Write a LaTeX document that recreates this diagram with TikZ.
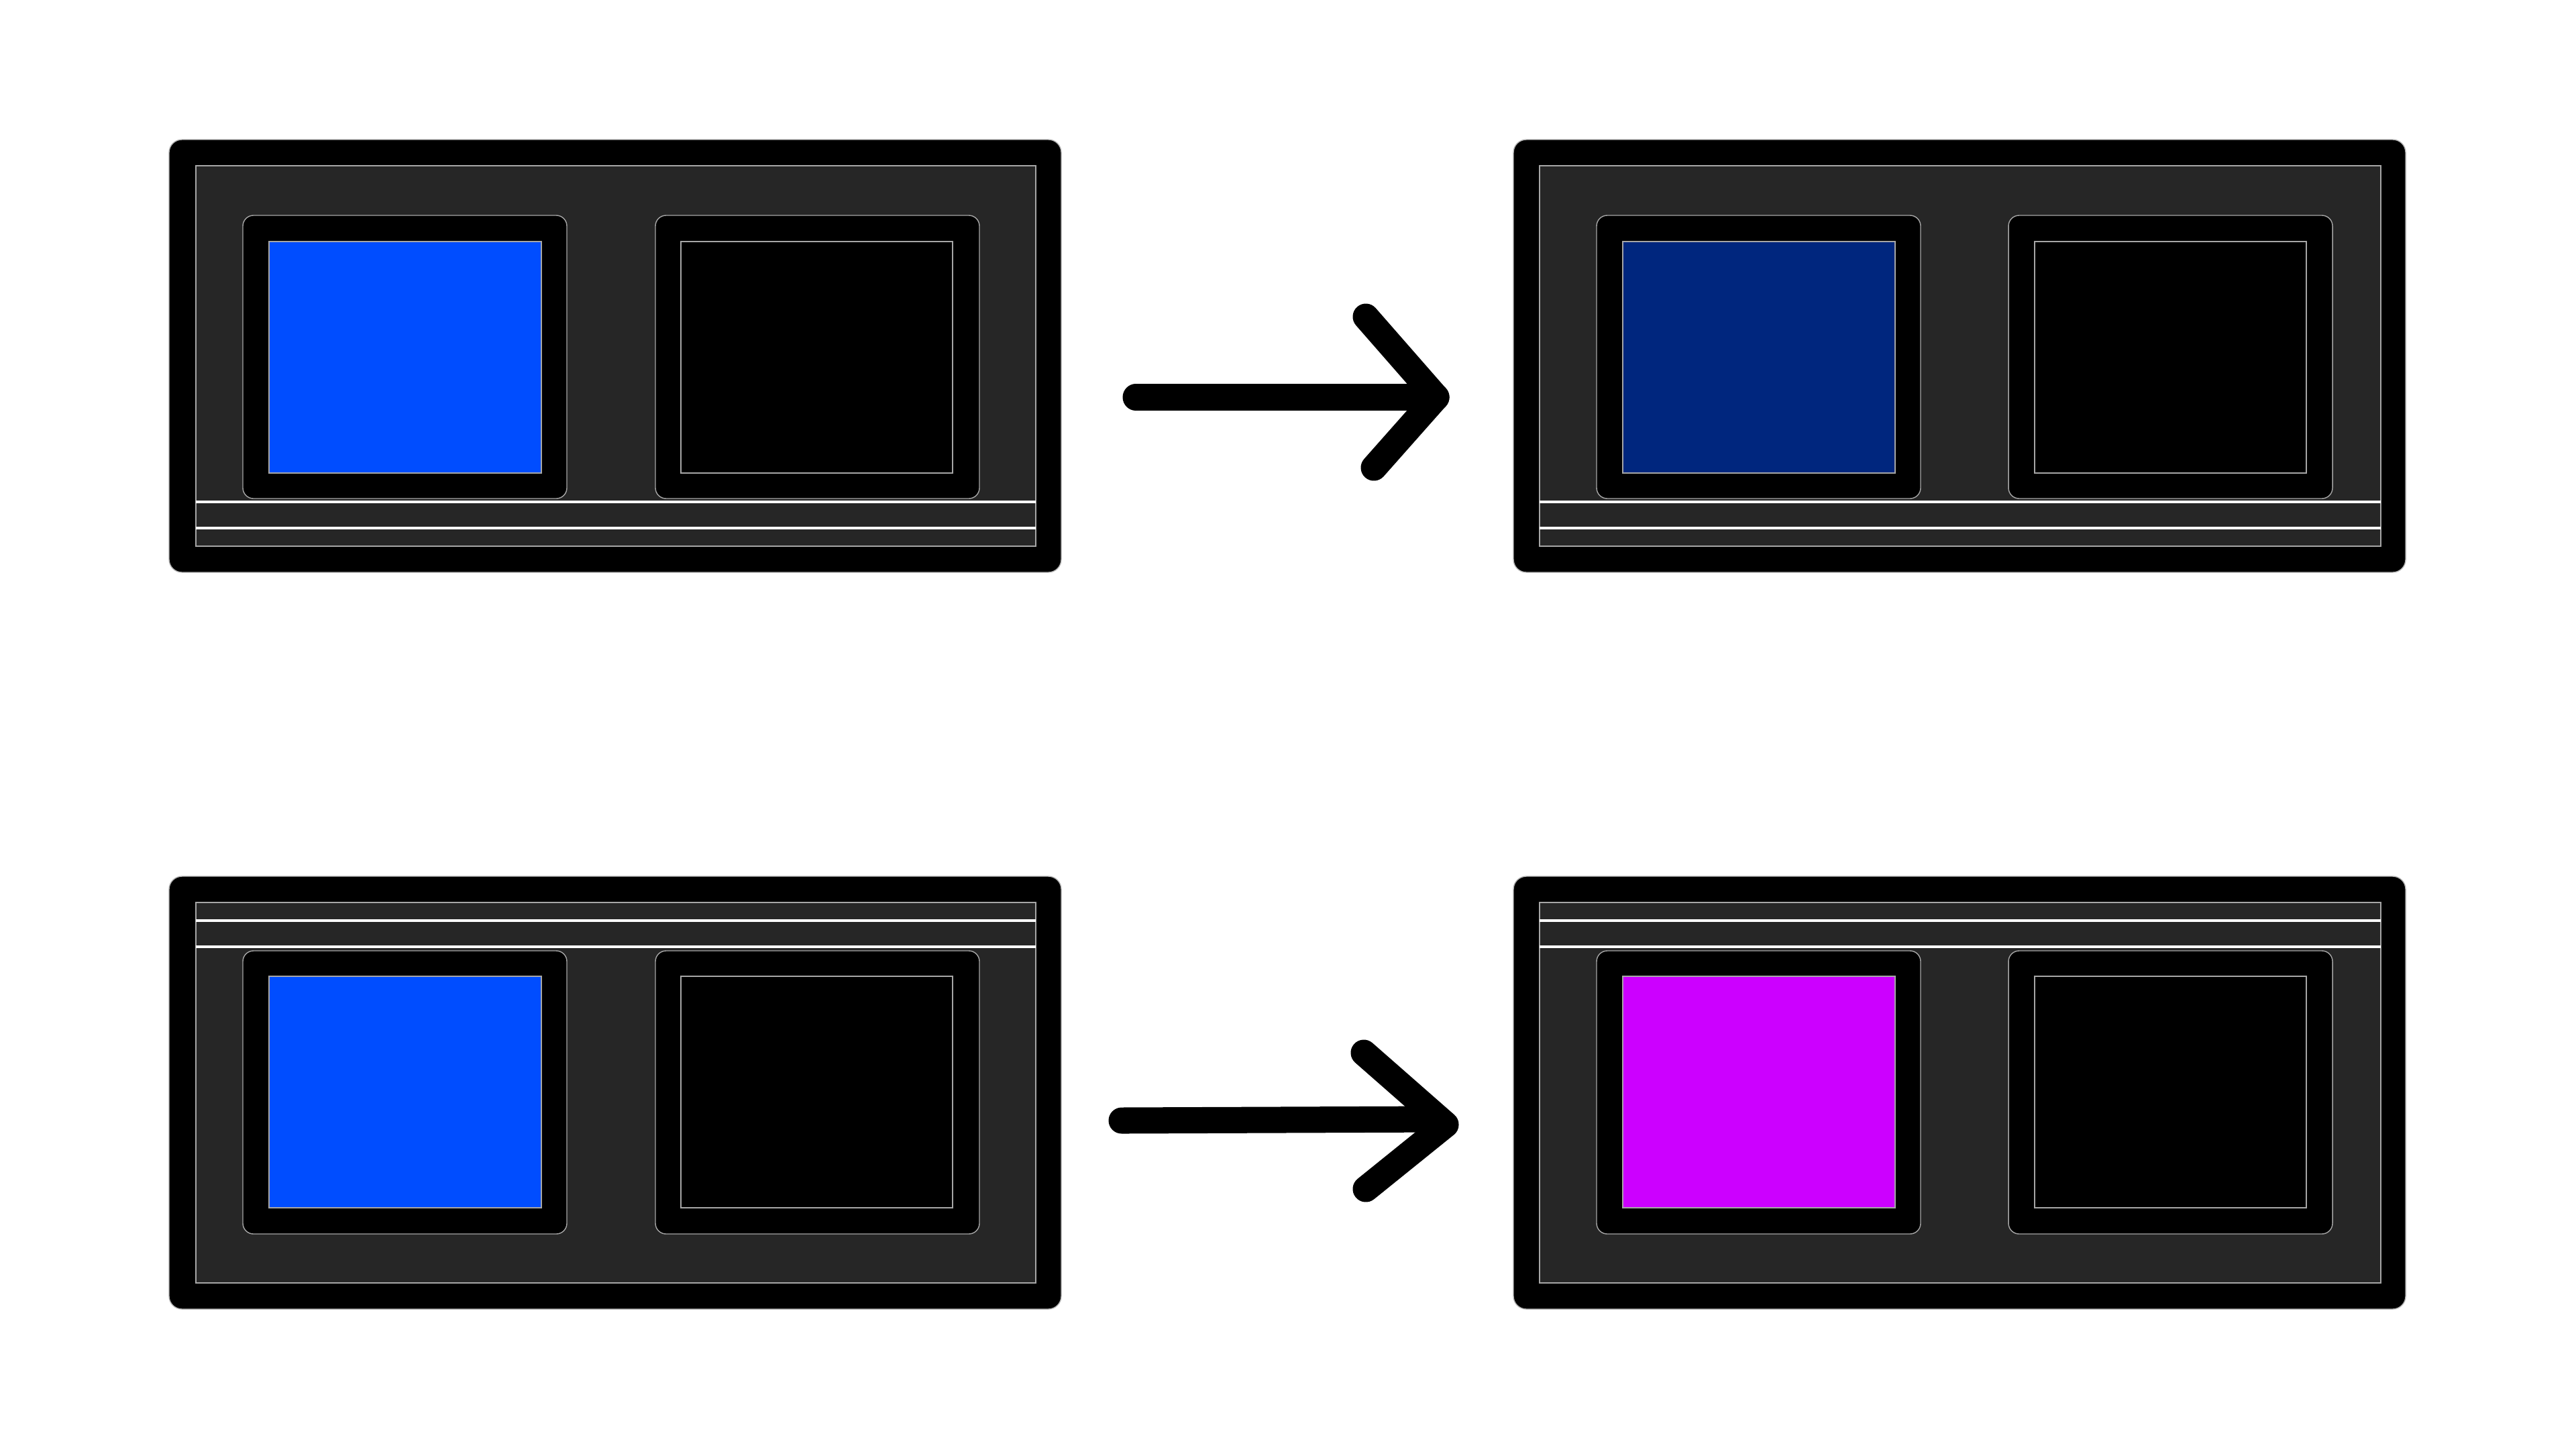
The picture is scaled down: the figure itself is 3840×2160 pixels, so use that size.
\documentclass[tikz,border=0pt]{standalone}
\usepackage{tikz}
\usetikzlibrary{positioning}

\definecolor{traygray}{HTML}{262626}
\definecolor{brightblue}{RGB}{0,77,255}
\definecolor{dimblue}{RGB}{0,38,126}
\definecolor{violet}{RGB}{204,0,255}

\begin{document}
\begin{tikzpicture}[x=0.01cm, y=-0.01cm,
    frame/.style={fill=black, draw=gray!60, line width=0.4pt, rounded corners=5.5pt},
    tray/.style={fill=traygray, draw=gray!70, line width=0.4pt},
    sep/.style={draw=white, line width=0.9pt},
    slot/.style={fill=black, draw=gray!70, line width=0.4pt, rounded corners=4.5pt},
    lit/.style={draw=gray!70, line width=0.4pt},
    sketch/.style={line width=11.1pt, line cap=round, line join=round}]
    \useasboundingbox (0,0) rectangle (3840,2160);

    % Top left: strip below
    \begin{scope}[shift={(252,208)}]
        % Frame
        \draw[frame] (0,0) rectangle (1330,645);
        % Tray
        \draw[tray] (40,39) rectangle (1292,606);
        % Strip
        \draw[sep] (40,540) -- (1292,540);
        \draw[sep] (40,579) -- (1292,579);
        % Slots
        \draw[slot] (110,113) rectangle (593,535);
        \draw[lit, fill=brightblue] (149,152) rectangle (555,497);
        \draw[slot] (725,113) rectangle (1208,535);
        \draw[lit, fill=black] (763,152) rectangle (1168,497);
    \end{scope}

    % Top right: dimmed
    \begin{scope}[shift={(2256,208)}]
        % Frame
        \draw[frame] (0,0) rectangle (1330,645);
        % Tray
        \draw[tray] (39,39) rectangle (1293,606);
        % Strip
        \draw[sep] (39,540) -- (1293,540);
        \draw[sep] (39,579) -- (1293,579);
        % Slots
        \draw[slot] (124,113) rectangle (607,535);
        \draw[lit, fill=dimblue] (163,152) rectangle (569,497);
        \draw[slot] (738,113) rectangle (1221,535);
        \draw[lit, fill=black] (777,152) rectangle (1182,497);
    \end{scope}

    % Bottom left: strip above
    \begin{scope}[shift={(252,1306)}]
        % Frame
        \draw[frame] (0,0) rectangle (1330,645);
        % Tray
        \draw[tray] (40,39) rectangle (1292,606);
        % Strip
        \draw[sep] (40,66) -- (1292,66);
        \draw[sep] (40,105) -- (1292,105);
        % Slots
        \draw[slot] (110,111) rectangle (593,533);
        \draw[lit, fill=brightblue] (149,149) rectangle (555,494);
        \draw[slot] (725,111) rectangle (1208,533);
        \draw[lit, fill=black] (763,149) rectangle (1168,494);
    \end{scope}

    % Bottom right: recoloured
    \begin{scope}[shift={(2256,1306)}]
        % Frame
        \draw[frame] (0,0) rectangle (1330,645);
        % Tray
        \draw[tray] (39,39) rectangle (1293,606);
        % Strip
        \draw[sep] (39,66) -- (1293,66);
        \draw[sep] (39,105) -- (1293,105);
        % Slots
        \draw[slot] (124,111) rectangle (607,533);
        \draw[lit, fill=violet] (163,149) rectangle (569,494);
        \draw[slot] (738,111) rectangle (1221,533);
        \draw[lit, fill=black] (777,149) rectangle (1182,494);
    \end{scope}

    % Upper arrow
    \coordinate (upstart) at (1693,592);
    \coordinate (uptip) at (2141,592);
    \coordinate (upwing) at (2036,472);
    \coordinate (updrop) at (2048,697);
    \draw[sketch] (upstart) -- (uptip);
    \draw[sketch] (upwing) -- (uptip) -- (updrop);

    % Lower arrow
    \coordinate (lowstart) at (1672,1670);
    \coordinate (lowend) at (2140,1668);
    \coordinate (lowtip) at (2155,1676);
    \coordinate (lowwing) at (2033,1569);
    \coordinate (lowdrop) at (2036,1772);
    \draw[sketch] (lowstart) -- (lowend);
    \draw[sketch] (lowwing) -- (lowtip) -- (lowdrop);
\end{tikzpicture}
\end{document}
